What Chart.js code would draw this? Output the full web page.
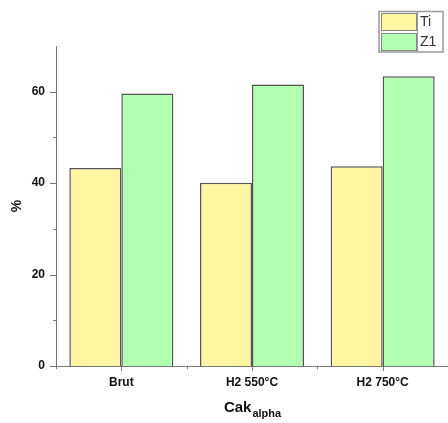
<!DOCTYPE html>
<html>
<head>
<meta charset="utf-8">
<script src="https://cdn.jsdelivr.net/npm/chart.js@4"></script>
<style>
  html, body { margin: 0; padding: 0; background: #fff; overflow: hidden; }
</style>
</head>
<body>
<canvas id="c" width="448" height="423"></canvas>
<script>
// Percentages measured on each sample
const categories = ['Brut', 'H2 550°C', 'H2 750°C'];
const seriesNames = ['Ti', 'Z1'];
const tiValues = [43.3, 40.1, 43.7];
const z1Values = [59.6, 61.6, 63.4];
const yTickLabels = [0, 20, 40, 60];
const yMinorTicks = [10, 30, 50];
const xTitleMain = 'Cak';
const xTitleSub = 'alpha';
const yTitle = '%';

const FONT = '"Liberation Sans", Arial, sans-serif';
const AXIS_COLOR = '#7a7a7a';

// Ticks (major + minor), axis titles and the framed legend
const decorations = {
  id: 'decorations',
  afterDraw(chart) {
    const ctx = chart.ctx;
    const area = chart.chartArea;
    const x = chart.scales.x;
    const y = chart.scales.y;
    ctx.save();
    ctx.strokeStyle = AXIS_COLOR;
    ctx.lineWidth = 1;

    // y ticks, outward to the left
    ctx.beginPath();
    yTickLabels.forEach(v => {
      const py = Math.round(y.getPixelForValue(v)) + 0.5;
      ctx.moveTo(area.left - 6, py); ctx.lineTo(area.left, py);
    });
    yMinorTicks.forEach(v => {
      const py = Math.round(y.getPixelForValue(v)) + 0.5;
      ctx.moveTo(area.left - 3, py); ctx.lineTo(area.left, py);
    });
    // x ticks: major at category centres, minor at boundaries
    categories.forEach((c, i) => {
      const px = Math.round(x.getPixelForValue(i)) + 0.5;
      ctx.moveTo(px, area.bottom); ctx.lineTo(px, area.bottom + 5);
    });
    for (let i = 0; i <= categories.length; i++) {
      const px = Math.round(x.getPixelForValue(i - 0.5)) + 0.5;
      ctx.moveTo(px, area.bottom); ctx.lineTo(px, area.bottom + 3);
    }
    ctx.stroke();

    // x axis title with subscript
    ctx.fillStyle = '#111';
    ctx.textBaseline = 'alphabetic';
    ctx.font = 'bold 15px ' + FONT;
    const mainW = ctx.measureText(xTitleMain).width;
    ctx.font = 'bold 11px ' + FONT;
    const subW = ctx.measureText(xTitleSub).width;
    const cx = (area.left + area.right) / 2;
    const startX = cx - (mainW + subW) / 2;
    ctx.font = 'bold 15px ' + FONT;
    ctx.textAlign = 'left';
    ctx.fillText(xTitleMain, startX, 412);
    ctx.font = 'bold 11px ' + FONT;
    ctx.fillText(xTitleSub, startX + mainW + 1, 417);

    // y axis title
    ctx.save();
    ctx.translate(17, 206);
    ctx.rotate(-Math.PI / 2);
    ctx.textAlign = 'center';
    ctx.textBaseline = 'middle';
    ctx.font = 'bold 14px ' + FONT;
    ctx.fillText(yTitle, 0, 0);
    ctx.restore();

    // framed legend, top right
    const lx = 379, ly = 11.5, lw = 64, lh = 40.5;
    ctx.strokeStyle = '#9a9a9a';
    ctx.lineWidth = 1.5;
    ctx.strokeRect(lx, ly, lw, lh);
    ctx.lineWidth = 1;
    ctx.beginPath();
    ctx.moveTo(417.5, ly); ctx.lineTo(417.5, ly + lh);
    ctx.stroke();
    chart.data.datasets.forEach((ds, i) => {
      const sy = 13.5 + i * 20;
      ctx.fillStyle = ds.backgroundColor;
      ctx.fillRect(381.5, sy, 35, 17);
      ctx.strokeStyle = '#8a8a8a';
      ctx.strokeRect(381.5, sy, 35, 17);
      ctx.fillStyle = '#333';
      ctx.font = '14px ' + FONT;
      ctx.textAlign = 'left';
      ctx.textBaseline = 'middle';
      ctx.fillText(ds.label, 420, sy + 9);
    });
    ctx.restore();
  }
};

new Chart(document.getElementById('c'), {
  type: 'bar',
  data: {
    labels: categories,
    datasets: [
      { label: seriesNames[0], data: tiValues, backgroundColor: '#fff5a3', borderColor: '#555', borderWidth: 1.5 },
      { label: seriesNames[1], data: z1Values, backgroundColor: '#b2ffb2', borderColor: '#555', borderWidth: 1.5 }
    ]
  },
  options: {
    responsive: false,
    devicePixelRatio: 1,
    animation: false,
    layout: { padding: { top: 46, right: 0, left: 0, bottom: 0 } },
    plugins: { legend: { display: false }, tooltip: { enabled: false } },
    datasets: { bar: { categoryPercentage: 0.796, barPercentage: 1.0 } },
    scales: {
      x: {
        grid: { display: false, drawTicks: false },
        border: { display: true, color: AXIS_COLOR, width: 1 },
        ticks: { padding: 9, color: '#111', font: { family: FONT, size: 12, weight: 'bold' } },
        afterFit(scale) { scale.height = 57; }
      },
      y: {
        min: 0, max: 70,
        grid: { display: false, drawTicks: false },
        border: { display: true, color: AXIS_COLOR, width: 1 },
        ticks: {
          stepSize: 20,
          padding: 11,
          color: '#111',
          font: { family: FONT, size: 12, weight: 'bold' },
          callback: v => (yTickLabels.includes(v) ? String(v) : '')
        },
        afterFit(scale) { scale.width = 56; }
      }
    }
  },
  plugins: [decorations]
});
</script>
</body>
</html>
